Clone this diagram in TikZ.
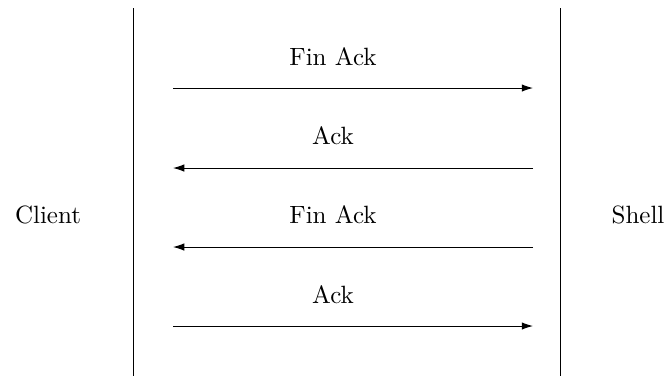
\documentclass[tikz,border=0pt]{standalone}
\usetikzlibrary{arrows.meta}
\begin{document}
\begin{tikzpicture}[x=0.4pt,y=-0.4pt,
  msg/.style={-{Latex[length=4.5pt,width=3pt]}, line width=0.4pt},
  lane/.style={line width=0.4pt}]
\useasboundingbox (0,0) rectangle (667,376);
\coordinate (lt) at (133,8);
\coordinate (lb) at (133,376);
\coordinate (rt) at (560,8);
\coordinate (rb) at (560,376);
\draw[lane] (lt) -- (lb);
\draw[lane] (rt) -- (rb);
\node (client) at (48,215) {Client};
\node (shell) at (638,215) {Shell};
\coordinate (a1l) at (173,88);  \coordinate (a1r) at (533,88);
\coordinate (a2l) at (173,168); \coordinate (a2r) at (533,168);
\coordinate (a3l) at (173,247); \coordinate (a3r) at (533,247);
\coordinate (a4l) at (173,326); \coordinate (a4r) at (533,326);
\draw[msg] (a1l) -- (a1r);
\draw[msg] (a2r) -- (a2l);
\draw[msg] (a3r) -- (a3l);
\draw[msg] (a4l) -- (a4r);
\node (m1) at (333,57) {Fin Ack};
\node (m2) at (333,136) {Ack};
\node (m3) at (333,215) {Fin Ack};
\node (m4) at (333,295) {Ack};
\end{tikzpicture}
\end{document}
